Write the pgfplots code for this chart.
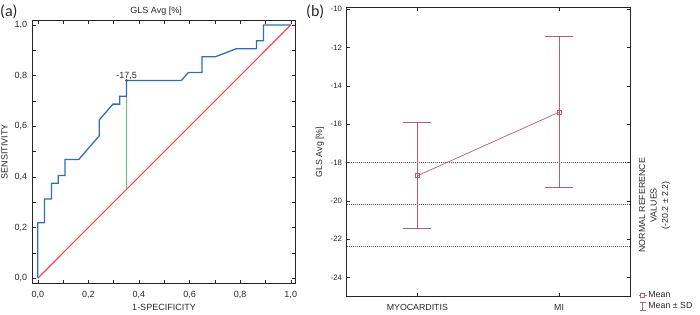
\documentclass[border=0pt]{standalone}
\usepackage{fontspec}
\setmainfont{Liberation Sans}
\newfontfamily\calib{Carlito}
\usepackage{pgfplots}
\pgfplotsset{compat=1.18}
\definecolor{rocblue}{RGB}{45,110,190}
\definecolor{rocred}{RGB}{238,75,85}
\definecolor{rocgreen}{RGB}{95,200,110}
\definecolor{rose}{RGB}{180,95,112}
\definecolor{txt}{RGB}{40,40,40}
\definecolor{refgray}{RGB}{90,90,90}
\begin{document}
\begin{tikzpicture}
\useasboundingbox (0pt,0pt) rectangle (700pt,315pt);
\pgfplotsset{every axis/.append style={
  scale only axis,
  font=\fontsize{9}{10.8}\selectfont,
  tick label style={font=\fontsize{9}{10.8}\selectfont, text=txt},
  label style={font=\fontsize{9}{10.8}\selectfont, text=txt},
  /pgf/number format/assume math mode=true,
  axis line style={black!85, line width=0.6pt},
  tick style={black!85, line width=0.5pt},
  tick align=inside, tick pos=both,
}}
% ---------------- panel (a) ----------------
\begin{axis}[
  at={(32.7pt,31.7pt)}, anchor=south west,
  width=262.6pt, height=262.6pt,
  xmin=-0.02, xmax=1.018, ymin=-0.02, ymax=1.017,
  xtick={0,0.2,0.4,0.6,0.8,1}, ytick={0,0.2,0.4,0.6,0.8,1},
  minor tick num=1,
  major tick length=3.5pt, minor tick length=3.5pt,
  xticklabel style={/pgf/number format/use comma, /pgf/number format/fixed, /pgf/number format/fixed zerofill, /pgf/number format/precision=1, yshift=-4pt},
  yticklabel style={/pgf/number format/use comma, /pgf/number format/fixed, /pgf/number format/fixed zerofill, /pgf/number format/precision=1, xshift=-2pt},
  xlabel={1-SPECIFICITY},
  xlabel style={yshift=1pt},
  ylabel={SENSITIVITY},
  title={GLS Avg [\%]},
  title style={at={(axis description cs:0.47,1)}, anchor=south, yshift=-4pt, font=\fontsize{9}{10.8}\selectfont, text=txt},
]
\addplot[rocred, line width=1.1pt] coordinates {(0,0) (1,1)};
\addplot[rocgreen, line width=1.1pt] coordinates {(0.351,0.781) (0.351,0.351)};
\addplot[rocblue, line width=1.3pt] coordinates {
(0,0) (0,0.219) (0.027,0.219) (0.027,0.3125) (0.054,0.3125) (0.054,0.375)
(0.081,0.375) (0.081,0.406) (0.108,0.406) (0.108,0.469) (0.162,0.469)
(0.243,0.5625) (0.243,0.625) (0.297,0.6875) (0.324,0.6875) (0.324,0.719)
(0.351,0.719) (0.351,0.781) (0.568,0.781) (0.595,0.8125) (0.649,0.8125)
(0.649,0.875) (0.703,0.875) (0.784,0.906) (0.865,0.906) (0.865,0.9375)
(0.892,0.9375) (0.892,1) (1,1)};
\addplot[only marks, mark=o, mark size=1.3pt, black!70] coordinates {(0.351,0.781)}
  node[above, inner sep=1pt, font=\fontsize{9}{10.8}\selectfont, text=txt] {-17,5};
\end{axis}
% ---------------- panel (b) ----------------
\begin{axis}[
  at={(346.5pt,18.3pt)}, anchor=south west,
  width=283.5pt, height=289.4pt,
  clip=false,
  xmin=-0.5, xmax=1.5, ymin=-25, ymax=-9.9,
  xtick={0,1}, xticklabels={MYOCARDITIS,MI},
  ytick={-24,-22,-20,-18,-16,-14,-12,-10},
  major tick length=3.5pt,
  yticklabel style={font=\fontsize{7.8}{9}\selectfont, xshift=-1pt},
  xticklabel style={yshift=-4.5pt, font=\fontsize{8.8}{10.5}\selectfont},
  ylabel={GLS Avg [\%]},
  ylabel style={font=\fontsize{8.8}{10.5}\selectfont},
  legend style={at={(rel axis cs:1,0)}, anchor=north west, xshift=8pt, yshift=7pt,
    draw=none, fill=none, font=\fontsize{8.8}{10.5}\selectfont, text=txt,
    row sep=0.5pt, inner sep=0pt, nodes={inner sep=1.5pt}},
  legend cell align=left,
]
\addplot[refgray, line width=0.8pt, dash pattern=on 0.8pt off 1.2pt, forget plot] coordinates {(-0.5,-18) (1.5,-18)};
\addplot[refgray, line width=0.8pt, dash pattern=on 0.8pt off 1.2pt, forget plot] coordinates {(-0.5,-20.2) (1.5,-20.2)};
\addplot[refgray, line width=0.8pt, dash pattern=on 0.8pt off 1.2pt, forget plot] coordinates {(-0.5,-22.4) (1.5,-22.4)};
\addplot[rose, line width=0.7pt, mark=square, mark size=2pt,
  mark options={line width=0.6pt},
  legend image code/.code={
    \draw[rose, line width=0.7pt] (0pt,0pt) -- (8pt,0pt);
    \draw[rose, line width=0.6pt, fill=white] (2.2pt,-1.8pt) rectangle (5.8pt,1.8pt);},
  error bars/.cd, y dir=both, y explicit,
  error bar style={rose, line width=0.7pt},
  error mark options={rotate=90, mark size=14pt, rose, line width=0.8pt}]
  coordinates {(0,-18.69) +- (0,2.77) (1,-15.37) +- (0,3.95)};
\addlegendentry{Mean}
\addlegendimage{legend image code/.code={
  \draw[rose, line width=0.7pt] (4pt,-4pt) -- (4pt,4pt);
  \draw[rose, line width=0.7pt] (1pt,4pt) -- (7pt,4pt);
  \draw[rose, line width=0.7pt] (1pt,-4pt) -- (7pt,-4pt);}}
\addlegendentry{Mean ± SD}
\node[rotate=90, align=center, font=\fontsize{8.8}{11.5}\selectfont, text=txt]
  at ([xshift=24.5pt]rel axis cs:1,0.316) {NORMAL REFERENCE\\VALUES\\(-20.2 ± 2.2)};
\end{axis}
% panel letters
\node[anchor=north west, inner sep=0pt, font=\calib\fontsize{16}{18}\selectfont, text=txt] at (0pt,310pt) {(a)};
\node[anchor=north west, inner sep=0pt, font=\calib\fontsize{16}{18}\selectfont, text=txt] at (306pt,310pt) {(b)};
\end{tikzpicture}
\end{document}
